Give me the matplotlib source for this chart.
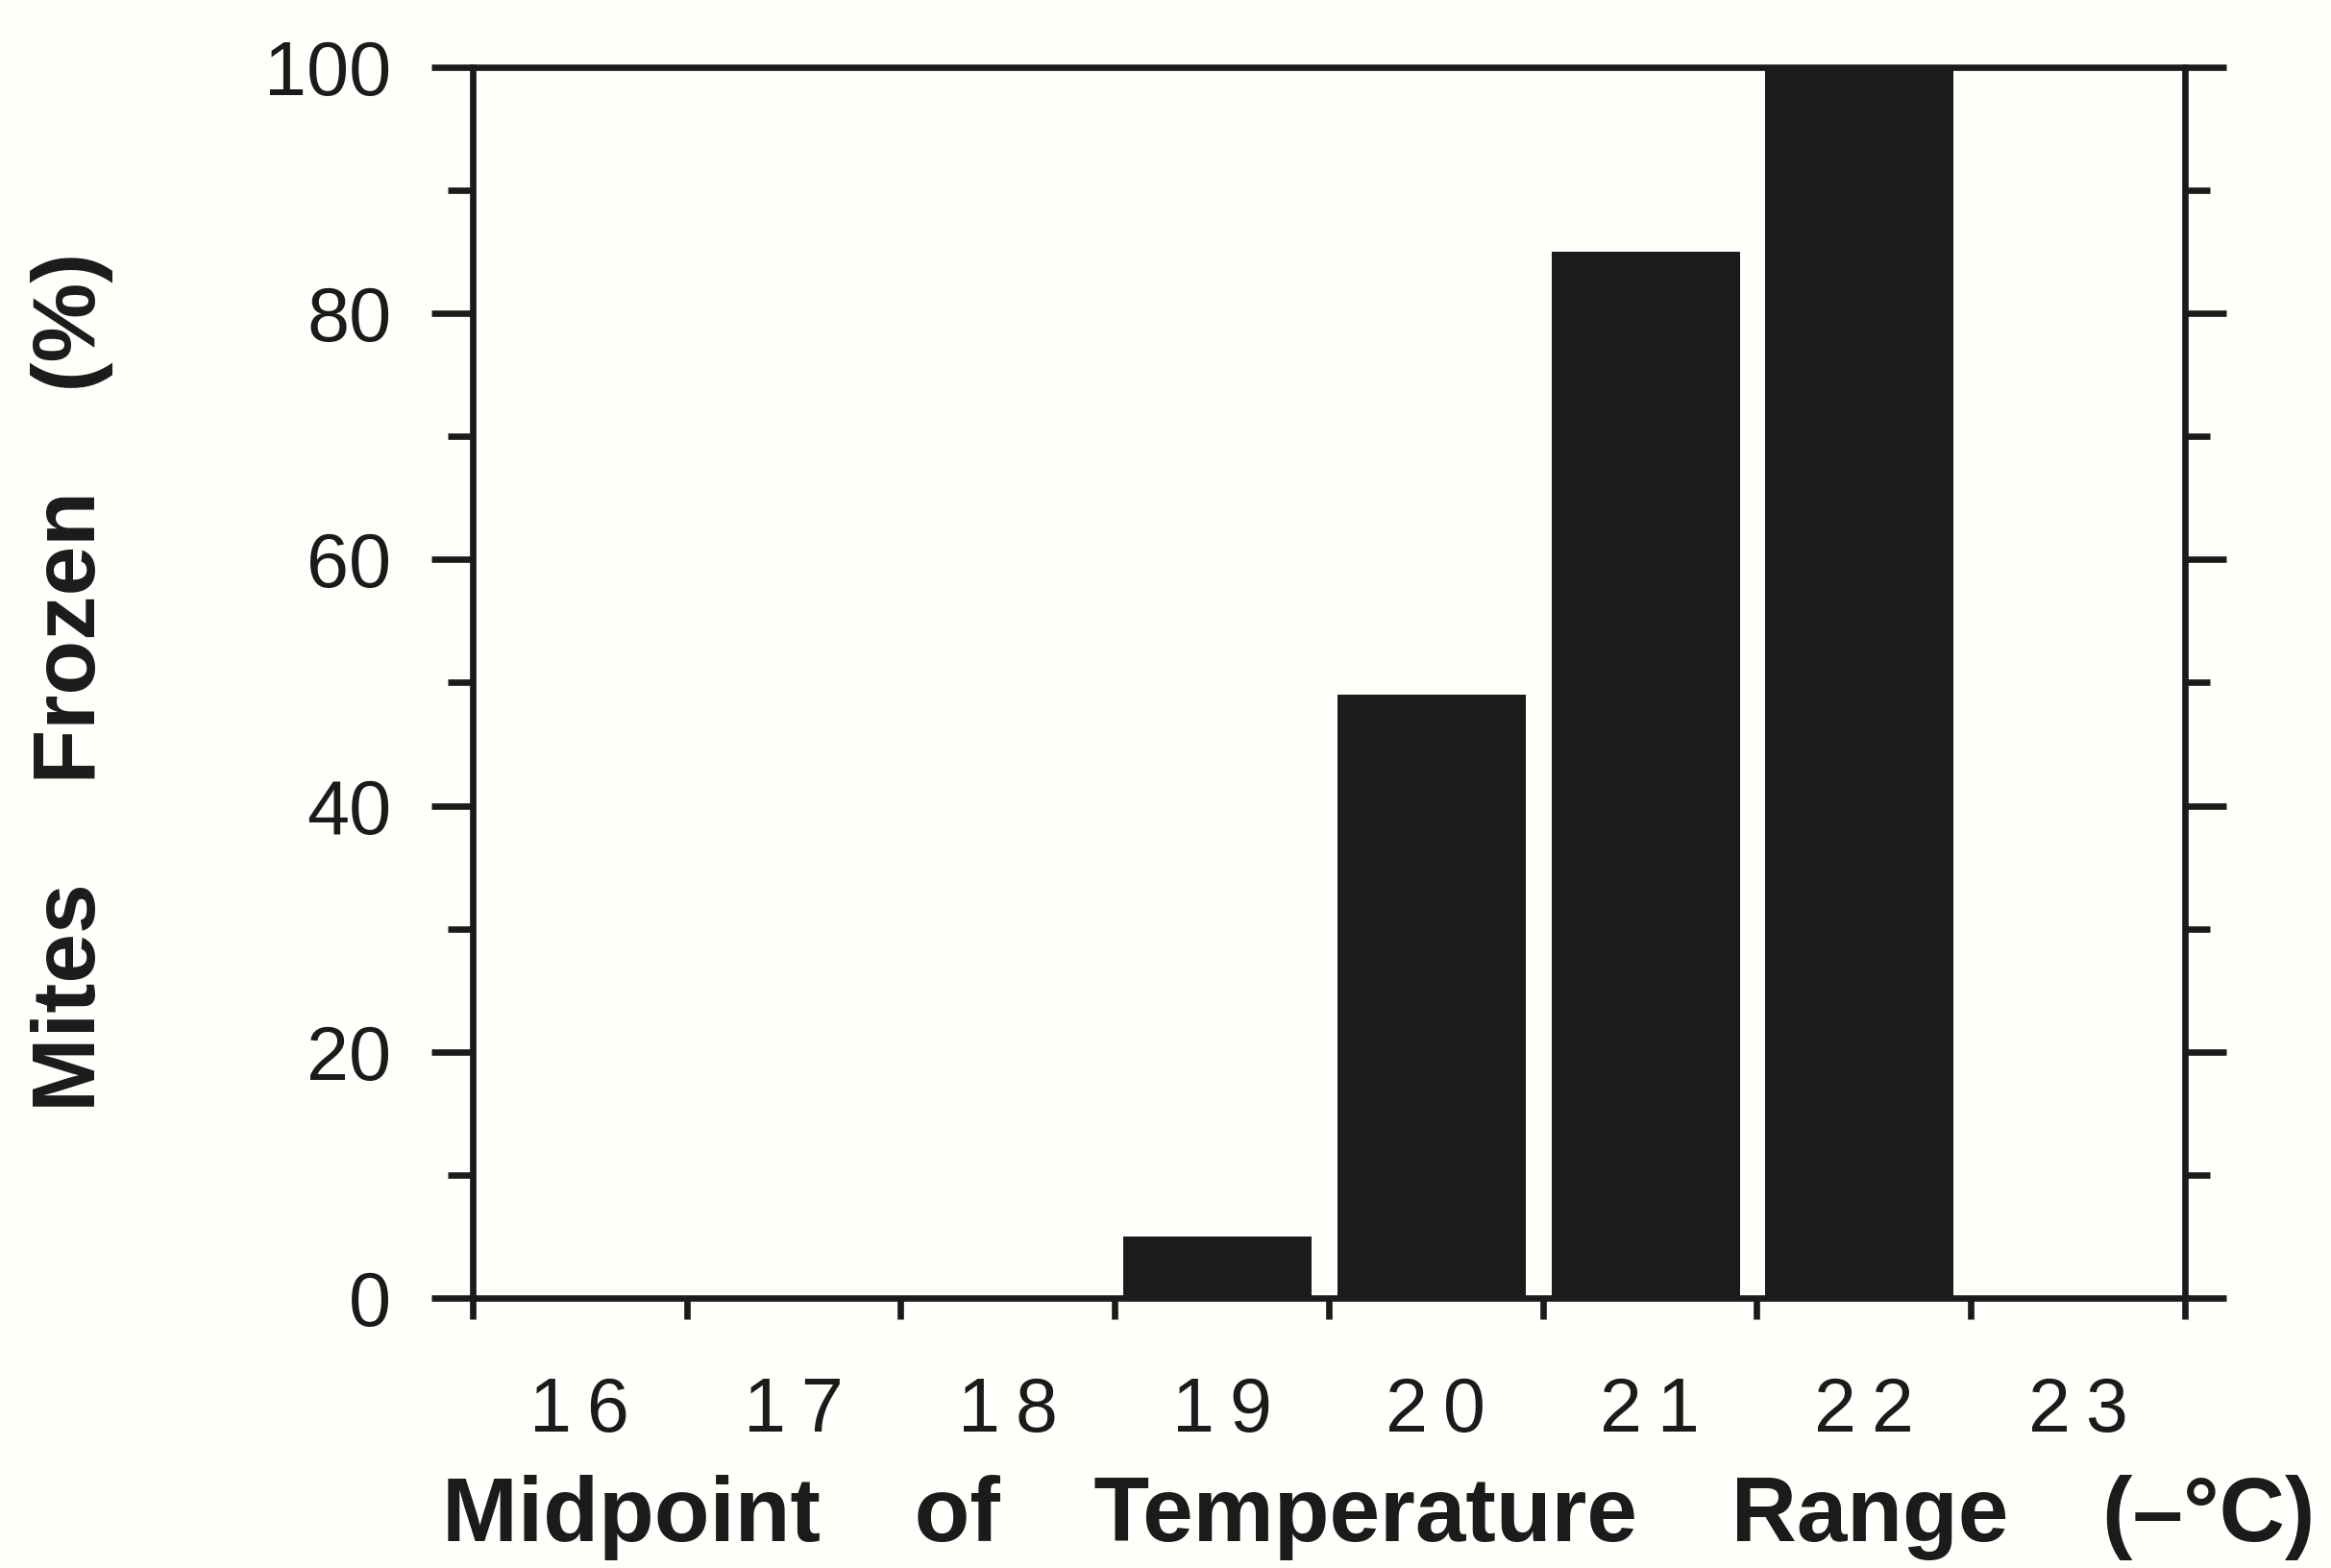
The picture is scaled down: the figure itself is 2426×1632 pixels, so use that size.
import matplotlib
matplotlib.use('Agg')
from matplotlib import pyplot as plt
from matplotlib.ticker import MultipleLocator, FixedLocator
import numpy as np

# midpoint of temperature range (-°C) and share of mites frozen (%)
temps = [16, 17, 18, 19, 20, 21, 22, 23]
frozen = [0, 0, 0, 5, 49, 85, 100, 0]
tick_labels = ['1\u20096', '1\u20097', '1\u20098', '1\u20099', '2\u20090', '2\u20091', '2\u20092', '2\u20093']
y_ticks = [0, 20, 40, 60, 80, 100]

ink = '#1b1b1b'
paper = '#fffffb'
plt.rcParams['font.family'] = ['Liberation Sans', 'DejaVu Sans']

fig = plt.figure(figsize=(24.26, 16.32), dpi=100, facecolor=paper)
ax = fig.add_axes([0.2028, 0.1722, 0.7345, 0.7849], facecolor=paper)

ax.bar(np.array(temps) - 0.02, frozen, width=0.88, color=ink, edgecolor='none', zorder=1)

ax.set_xlim(15.5, 23.5)
ax.set_ylim(0, 100)

lw = 4.8
for s in ax.spines.values():
	s.set_linewidth(lw)
	s.set_color(ink)
	s.set_zorder(3)

# x: labels at category centres, tick marks at the edges between them
ax.xaxis.set_major_locator(FixedLocator(temps))
ax.set_xticklabels(tick_labels)
ax.xaxis.set_minor_locator(FixedLocator(np.arange(15.5, 24, 1)))
ax.tick_params(axis='x', which='major', length=0, pad=58, labelsize=57, colors=ink)
ax.tick_params(axis='x', which='minor', length=16, width=lw, direction='out', color=ink)

ax.set_yticks(y_ticks)
ax.yaxis.set_minor_locator(MultipleLocator(10))
ax.tick_params(axis='y', which='both', left=True, right=True, direction='out', width=lw, color=ink)
ax.tick_params(axis='y', which='major', length=31, pad=30, labelsize=57, labelcolor=ink)
ax.tick_params(axis='y', which='minor', length=19)

gap = '   \u2009'
fig.text(0.5915, 0.032, gap.join(['Midpoint', 'of', 'Temperature', 'Range', '(\u2013\u00b0C)']),
	ha='center', va='center', fontsize=68, fontweight='bold', color=ink)
fig.text(0.031, 0.565, '    '.join(['Mites', 'Frozen', '(%)']), rotation=90,
	ha='center', va='center', fontsize=67, fontweight='bold', color=ink)

fig.savefig('out.png', dpi=100, facecolor=paper)
